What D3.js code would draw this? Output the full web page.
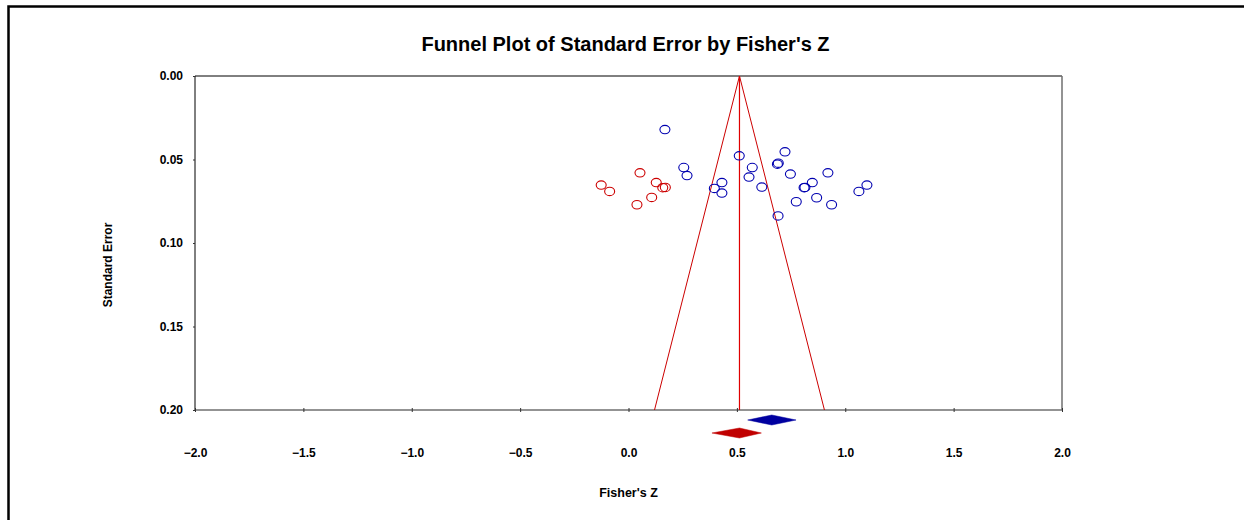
<!DOCTYPE html>
<html>
<head>
<meta charset="utf-8">
<script src="https://cdn.jsdelivr.net/npm/d3@7"></script>
<style>
body{margin:0;background:#fff;}
text{font-family:Arial,"Liberation Sans",sans-serif;font-weight:bold;fill:#000;}
</style>
</head>
<body>
<div id="chart"></div>
<script>
// observed studies (blue)
var obsZ  = [0.168,0.255,0.270,0.396,0.431,0.431,0.511,0.722,0.571,0.556,0.687,0.691,
	     0.747,0.615,0.920,0.848,0.814,0.810,0.868,0.774,0.937,1.063,1.100,0.690]
var obsSE = [0.0321,0.0548,0.0596,0.0673,0.0638,0.0701,0.0478,0.0454,0.0548,0.0605,0.0528,0.0522,
	     0.0587,0.0665,0.0580,0.0638,0.0667,0.0669,0.0729,0.0753,0.0771,0.0691,0.0653,0.0838]
// imputed studies (red)
var impZ  = [-0.126,-0.087,0.053,0.128,0.107,0.039,0.158,0.170]
var impSE = [0.0653,0.0691,0.0580,0.0638,0.0727,0.0771,0.0669,0.0667]
// summary diamonds [lower, point, upper]
var obsSummary = [0.550,0.661,0.773]
var impSummary = [0.385,0.512,0.613]
var meanZ = 0.512
var xTicks = [-2,-1.5,-1,-0.5,0,0.5,1,1.5,2]
var yTicks = [0,0.05,0.10,0.15,0.20]

var W=1244, H=520
var margin={left:195, top:76, right:182, bottom:110}

var svg=d3.select('#chart').append('svg')
    .attr('width',W).attr('height',H)

// outer frame (right/bottom run off the page)
svg.append('rect')
    .attr('x',8.5).attr('y',6.5)
    .attr('width',W+20).attr('height',H+20)
    .attr('fill','none')
    .attr('stroke','#000')
    .attr('stroke-width',2.5)

var x=d3.scaleLinear().domain([-2,2]).range([margin.left,W-margin.right])
var y=d3.scaleLinear().domain([0,0.2]).range([margin.top,H-margin.bottom])

var x0=x.range()[0], x1=x.range()[1], y0=y.range()[0], y1=y.range()[1]

// plot frame: dark top/left, grey bottom/right
svg.append('path')
    .attr('d','M'+x0+','+y1+'V'+y0+'H'+x1)
    .attr('fill','none').attr('stroke','#000').attr('stroke-width',1)
svg.append('path')
    .attr('d','M'+x0+','+y1+'H'+x1+'V'+y0)
    .attr('fill','none').attr('stroke','#707070').attr('stroke-width',1.5)

// axes
var xAxis=svg.append('g')
    .attr('transform','translate(0,'+y1+')')
    .call(d3.axisBottom(x).tickValues(xTicks).tickFormat(d3.format('.1f'))
	  .tickSizeInner(2).tickSizeOuter(0).tickPadding(36))
xAxis.select('.domain').remove()
xAxis.selectAll('.tick line').attr('y1',-2).attr('stroke','#333')
xAxis.selectAll('text').style('font-size','12px')

var yAxis=svg.append('g')
    .attr('transform','translate('+x0+',0)')
    .call(d3.axisLeft(y).tickValues(yTicks).tickFormat(d3.format('.2f'))
	  .tickSizeInner(2).tickSizeOuter(0).tickPadding(10))
yAxis.select('.domain').remove()
yAxis.selectAll('.tick line').attr('stroke','#333')
yAxis.selectAll('text').style('font-size','12px')

// funnel
var seMax=0.2
svg.append('path')
    .datum([[meanZ-1.96*seMax,seMax],[meanZ,0],[meanZ+1.96*seMax,seMax]])
    .attr('d',d3.line().x(function(d){return x(d[0])}).y(function(d){return y(d[1])}))
    .attr('fill','none').attr('stroke','#cc0000').attr('stroke-width',1)
svg.append('line')
    .attr('x1',x(meanZ)).attr('x2',x(meanZ))
    .attr('y1',y(0)).attr('y2',y(seMax))
    .style('stroke','#e00000').style('stroke-width',1.2)

// points
function Points(zs,ses,col){
    svg.append('g').selectAll('ellipse')
	.data(zs.map(function(z,i){return [z,ses[i]]}))
	.enter().append('ellipse')
	.attr('cx',function(d){return x(d[0])})
	.attr('cy',function(d){return y(d[1])})
	.attr('rx',5).attr('ry',4.2)
	.attr('fill','none').attr('stroke',col).attr('stroke-width',1.1)
}
Points(obsZ,obsSE,'#0000b0')
Points(impZ,impSE,'#cc0000')

// summary diamonds
function Diamond(s,yc,col){
    var h=5
    svg.append('path')
	.attr('d','M'+x(s[0])+','+yc+'L'+x(s[1])+','+(yc-h)+'L'+x(s[2])+','+yc+'L'+x(s[1])+','+(yc+h)+'Z')
	.attr('fill',col).attr('stroke',col).attr('stroke-width',0.5)
}
Diamond(obsSummary,y1+10,'#0000a0')
Diamond(impSummary,y1+23,'#c00000')

// titles
svg.append('text')
    .attr('x',(x0+x1)/2-3).attr('y',51)
    .attr('text-anchor','middle')
    .style('font-size','20px')
    .text("Funnel Plot of Standard Error by Fisher's Z")
svg.append('text')
    .attr('x',(x0+x1)/2).attr('y',497)
    .attr('text-anchor','middle')
    .style('font-size','12.5px')
    .text("Fisher's Z")
svg.append('text')
    .attr('transform','translate(112,265) rotate(-90)')
    .attr('text-anchor','middle')
    .style('font-size','12px')
    .text('Standard Error')
</script>
</body>
</html>
